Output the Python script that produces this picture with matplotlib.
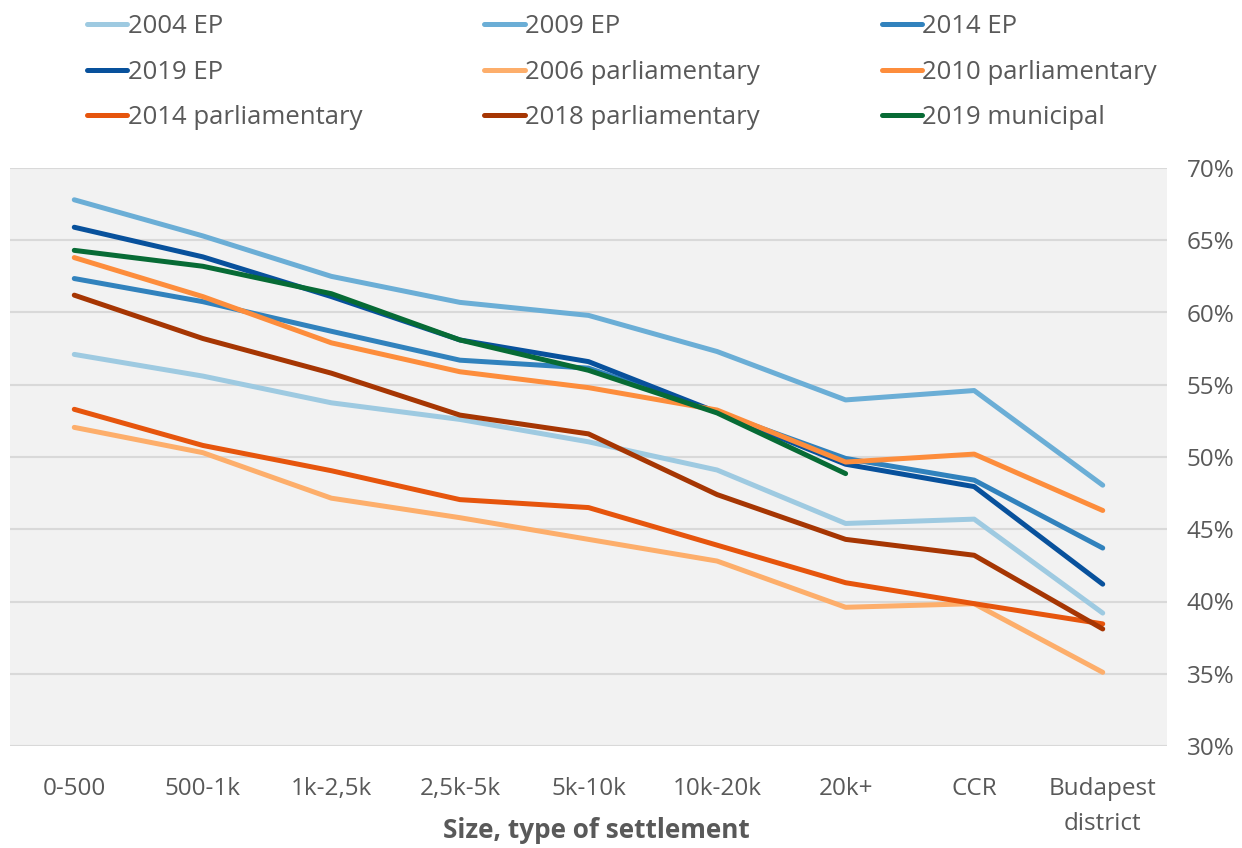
import matplotlib
matplotlib.use("Agg")
import matplotlib.pyplot as plt
from matplotlib.ticker import FuncFormatter

plt.rcParams['font.family'] = ['Open Sans', 'DejaVu Sans']

categories = ["0-500", "500-1k", "1k-2,5k", "2,5k-5k", "5k-10k", "10k-20k", "20k+", "CCR", "Budapest\ndistrict"]

ep_2004 = [57.1, 55.6, 53.75, 52.6, 51.05, 49.1, 45.4, 45.7, 39.2]
ep_2009 = [67.8, 65.3, 62.5, 60.7, 59.8, 57.3, 53.95, 54.6, 48.05]
ep_2014 = [62.35, 60.75, 58.7, 56.7, 56.15, 53.1, 49.9, 48.4, 43.7]
ep_2019 = [65.9, 63.85, 61.1, 58.1, 56.6, 53.1, 49.5, 47.95, 41.2]
parl_2006 = [52.05, 50.3, 47.15, 45.8, 44.3, 42.8, 39.6, 39.85, 35.1]
parl_2010 = [63.8, 61.1, 57.9, 55.9, 54.8, 53.25, 49.65, 50.2, 46.3]
parl_2014 = [53.3, 50.8, 49.05, 47.05, 46.5, 43.9, 41.3, 39.85, 38.45]
parl_2018 = [61.2, 58.2, 55.8, 52.9, 51.6, 47.4, 44.3, 43.2, 38.1]
mun_2019 = [64.3, 63.2, 61.3, 58.1, 56.0, 53.05, 48.85]

series = [
    ("2004 EP", ep_2004, "#9ecae1"),
    ("2009 EP", ep_2009, "#6baed6"),
    ("2014 EP", ep_2014, "#3182bd"),
    ("2019 EP", ep_2019, "#08519c"),
    ("2006 parliamentary", parl_2006, "#fdae6b"),
    ("2010 parliamentary", parl_2010, "#fd8d3c"),
    ("2014 parliamentary", parl_2014, "#e6550d"),
    ("2018 parliamentary", parl_2018, "#a63603"),
    ("2019 municipal", mun_2019, "#076b35"),
]

fig = plt.figure(figsize=(12.42, 8.48), dpi=100)
ax = fig.add_axes([10 / 1242, 1 - 746 / 848, 1157 / 1242, 578 / 848])
ax.set_facecolor("#f2f2f2")

x_all = list(range(len(categories)))
handles = {}
for name, vals, color in series:
    ln, = ax.plot(x_all[:len(vals)], vals, color=color, linewidth=3.6,
                  solid_capstyle="round", solid_joinstyle="round", label=name)
    handles[name] = ln

ax.set_xlim(-0.5, len(categories) - 0.5)
ax.set_ylim(30, 70)
ax.set_yticks(range(30, 71, 5))
ax.yaxis.set_major_formatter(FuncFormatter(lambda v, p: f"{v:.0f}%"))
ax.yaxis.tick_right()
ax.grid(axis="y", color="#d9d9d9", linewidth=1.5)
ax.set_axisbelow(True)
for s in ax.spines.values():
    s.set_visible(False)
ax.set_xticks(x_all)
ax.set_xticklabels(categories, linespacing=1.64)
ax.tick_params(axis="both", length=0, labelsize=17.5, colors="#595959")
ax.tick_params(axis="x", pad=22)
ax.tick_params(axis="y", pad=14)

# axis title placed on the figure so the two-line tick label does not push it off
fig.text(596 / 1242, 1 - 831 / 848, "Size, type of settlement", fontsize=18.8,
         fontweight="bold", color="#595959", ha="center", va="center")

# legend is filled column by column, so reorder to get the row layout
order = ["2004 EP", "2019 EP", "2014 parliamentary",
         "2009 EP", "2006 parliamentary", "2018 parliamentary",
         "2014 EP", "2010 parliamentary", "2019 municipal"]
leg = fig.legend([handles[n] for n in order], order, ncol=3, loc="upper left",
                 bbox_to_anchor=(77 / 1242, 1 - 4 / 848), frameon=False,
                 fontsize=18.5, handlelength=1.56, handletextpad=0.02,
                 columnspacing=4.75, labelspacing=0.8, borderaxespad=0)
for t in leg.get_texts():
    t.set_color("#595959")

fig.savefig("out.png", dpi=100)
